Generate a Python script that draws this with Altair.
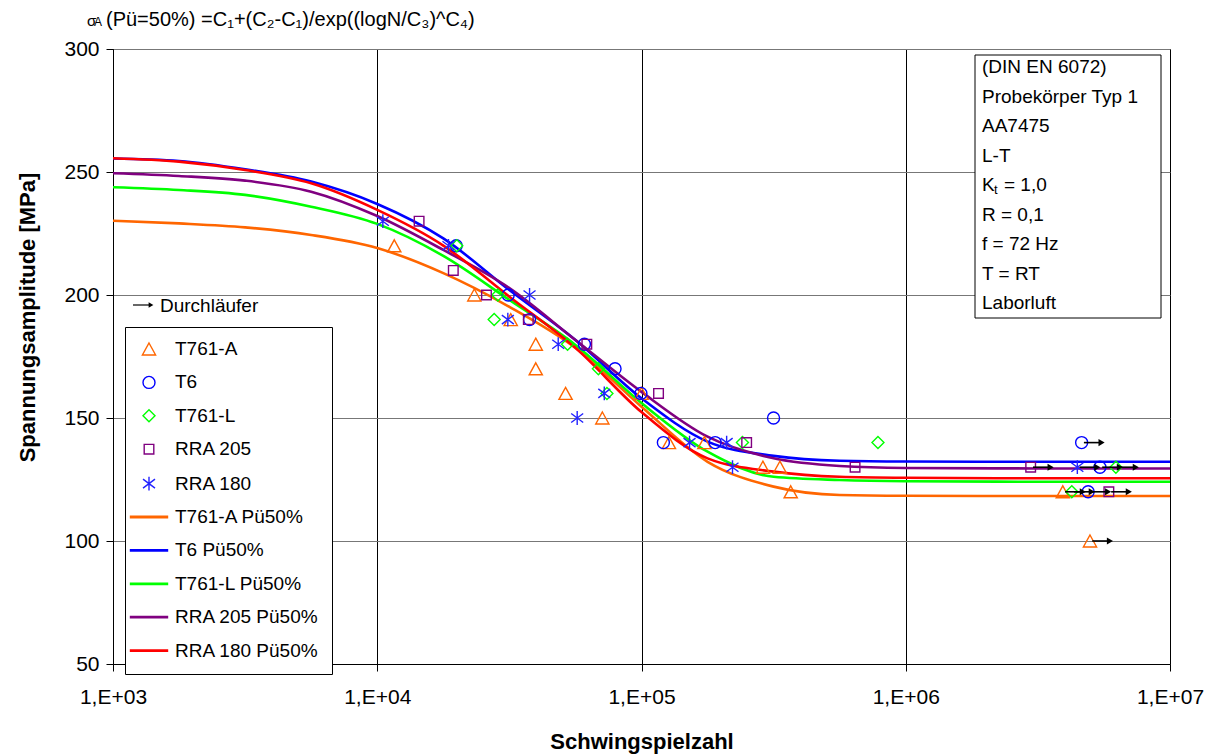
import altair as alt
import pandas as pd

FONT = "Liberation Sans"

# ---------------------------------------------------------------- test data
# Schwingspielzahl N, Spannungsamplitude [MPa], Durchläufer flag
T761A_N = [11600, 23300, 32000, 39800, 39800, 51600, 71100, 100000, 127000,
           173000, 288000, 334000, 367000, 3930000, 4980000]
T761A_S = [220, 200, 190, 180, 170, 160, 150, 160, 140, 140, 130, 130, 120, 120, 100]
T761A_RUN = [0, 0, 0, 0, 0, 0, 0, 0, 0, 0, 0, 0, 0, 1, 1]

T6_N = [19900, 31300, 37700, 60800, 79400, 99500, 121000, 190000, 316000,
        4630000, 5430000, 4900000]
T6_S = [220, 200, 190, 180, 170, 160, 140, 140, 150, 140, 130, 120]
T6_RUN = [0, 0, 0, 0, 0, 0, 0, 0, 0, 1, 1, 1]

T761L_N = [20000, 28600, 27700, 52500, 68700, 74000, 241000, 785000, 6240000, 4250000]
T761L_S = [220, 200, 190, 180, 170, 160, 140, 140, 130, 120]
T761L_RUN = [0, 0, 0, 0, 0, 0, 0, 0, 1, 1]

RRA205_N = [14400, 19400, 25900, 37300, 62100, 116000, 250000, 643000, 2970000, 5870000]
RRA205_S = [230, 210, 200, 190, 180, 160, 140, 130, 130, 120]
RRA205_RUN = [0, 0, 0, 0, 0, 0, 0, 0, 1, 1]

RRA180_N = [10500, 18600, 37700, 31200, 48400, 57100, 72300, 152000, 210000, 221000, 4460000]
RRA180_S = [230, 220, 200, 190, 180, 150, 160, 140, 140, 130, 130]
RRA180_RUN = [0, 0, 0, 0, 0, 0, 0, 0, 0, 0, 1]

# ------------------------------------------------------- Pü50% fit curves
CURVE_N = [1000, 1778, 3162, 5623, 10000, 17783, 31623, 56234, 100000,
           177828, 316228, 562341, 1000000, 3162278, 10000000]
CURVE_T761A = [230.2, 229.1, 227.5, 224.4, 219.1, 208.9, 195.2, 178.5, 154.6,
               132.2, 122.1, 118.7, 118.4, 118.3, 118.3]
CURVE_T6 = [255.5, 254.5, 251.1, 246.1, 237.0, 223.0, 202.0, 181.7, 158.0,
            140.4, 134.6, 132.6, 132.3, 132.2, 132.2]
CURVE_T761L = [243.8, 242.7, 240.7, 235.9, 228.9, 215.9, 198.0, 179.7, 156.1,
               136.3, 126.1, 124.8, 124.3, 124.1, 124.1]
CURVE_RRA205 = [249.5, 248.4, 246.5, 242.0, 232.1, 218.3, 202.8, 181.7, 160.6,
                142.4, 133.6, 130.5, 129.7, 129.5, 129.5]
CURVE_RRA180 = [255.6, 254.2, 250.8, 245.4, 234.6, 220.1, 199.3, 178.5, 152.4,
                133.6, 128.2, 126.1, 125.7, 125.5, 125.5]

SERIES = ["T761-A", "T6", "T761-L", "RRA 205", "RRA 180"]
CURVES = ["T761-A Pü50%", "T6 Pü50%", "T761-L Pü50%", "RRA 205 Pü50%", "RRA 180 Pü50%"]
LABELS = SERIES + CURVES
COLORS = ["#FF6600", "#0000FF", "#00FF00", "#800080", "#2222FF",
          "#FF6600", "#0000FF", "#00FF00", "#800080", "#FF0000"]

TRIANGLE = "M0,-1L1.1,1L-1.1,1Z"
SQUARE = "M-0.8,-0.8L0.8,-0.8L0.8,0.8L-0.8,0.8Z"
STAR = "M0,-1.15L0,1.15M-1,-0.75L1,0.75M-1,0.75L1,-0.75"
LINE = "M-3.2,-0.12L3.2,-0.12M-3.2,0.12L3.2,0.12"
SHAPES = [TRIANGLE, "circle", "diamond", SQUARE, STAR, LINE, LINE, LINE, LINE, LINE]

INFO_LINES = ["(DIN EN 6072)", "Probekörper Typ 1", "AA7475", "L-T", "",
              "R = 0,1", "f = 72 Hz", "T = RT", "Laborluft"]

# ------------------------------------------------------------- tables
pts = []
for name, ns, ss, runs in [
    ("T761-A", T761A_N, T761A_S, T761A_RUN),
    ("T6", T6_N, T6_S, T6_RUN),
    ("T761-L", T761L_N, T761L_S, T761L_RUN),
    ("RRA 205", RRA205_N, RRA205_S, RRA205_RUN),
    ("RRA 180", RRA180_N, RRA180_S, RRA180_RUN),
]:
    for n, s, r in zip(ns, ss, runs):
        pts.append({"label": name, "N": n, "S": s, "run": r})
points_df = pd.DataFrame(pts)

runouts = points_df[points_df["run"] == 1].copy()
runouts["N0"] = runouts["N"] * 1.02
runouts["N1"] = runouts["N"] * 1.19

curve_rows = []
for name, vals in zip(CURVES, [CURVE_T761A, CURVE_T6, CURVE_T761L, CURVE_RRA205, CURVE_RRA180]):
    for n, s in zip(CURVE_N, vals):
        curve_rows.append({"label": name, "N": n, "S": s})
curves_df = pd.DataFrame(curve_rows)

X_SCALE = alt.Scale(type="log", domain=[1000, 10000000], nice=False)
Y_SCALE = alt.Scale(domain=[50, 300], nice=False, zero=False)
COLOR_SCALE = alt.Scale(domain=LABELS, range=COLORS)
SHAPE_SCALE = alt.Scale(domain=LABELS, range=SHAPES)

x_axis = alt.Axis(
    values=[1000, 10000, 100000, 1000000, 10000000],
    labelExpr="'1,E+0' + round(log(datum.value) / LN10)",
    grid=True, gridColor="#000000", gridWidth=1,
    domainColor="#000000", tickColor="#000000", tickSize=7,
    labelFont=FONT, labelFontSize=21, labelColor="#000000", labelPadding=15,
    labelOverlap=False, labelFlush=False,
    title="Schwingspielzahl", titleFont=FONT, titleFontSize=22, titleFontWeight="bold",
    titleColor="#000000", titleBaseline="middle", titleY=77,
)
y_axis = alt.Axis(
    values=[50, 100, 150, 200, 250, 300],
    grid=True, gridColor="#777777", gridWidth=1,
    domainColor="#000000", tickColor="#000000", tickSize=7,
    labelFont=FONT, labelFontSize=21, labelColor="#000000", labelPadding=7,
    labelOverlap=False, labelFlush=False,
    title="Spannungsamplitude [MPa]", titleFont=FONT, titleFontSize=22,
    titleFontWeight="bold", titleColor="#000000", titleX=-86, titleY=268,
    titleBaseline="middle",
)

legend = alt.Legend(
    title=None, orient="none", legendX=12, legendY=278, direction="vertical",
    padding=12.5, rowPadding=13.4, symbolOffset=2, labelOffset=16.5,
    labelFont=FONT, labelFontSize=19, labelColor="#000000", labelLimit=300,
    symbolSize=144, symbolStrokeWidth=1.4, fillColor="#FFFFFF",
    strokeColor="#000000", cornerRadius=0,
)


def xy(xfield="N", yfield="S"):
    return dict(
        x=alt.X(f"{xfield}:Q", scale=X_SCALE, axis=x_axis),
        y=alt.Y(f"{yfield}:Q", scale=Y_SCALE, axis=y_axis),
    )


layers = []
for name in CURVES:
    layers.append(
        alt.Chart(curves_df).transform_filter(alt.datum.label == name)
        .mark_line(strokeWidth=2.6, interpolate="monotone")
        .encode(color=alt.Color("label:N", scale=COLOR_SCALE, legend=legend), **xy())
    )

layers.append(
    alt.Chart(points_df).mark_point(filled=False, size=144, strokeWidth=1.4, opacity=1)
    .encode(
        color=alt.Color("label:N", scale=COLOR_SCALE, legend=legend),
        shape=alt.Shape("label:N", scale=SHAPE_SCALE, legend=legend),
        **xy(),
    )
)

# Durchläufer arrows
layers.append(
    alt.Chart(runouts).mark_rule(color="#000000", strokeWidth=1.6)
    .encode(x2="N1:Q", **xy("N0"))
)
layers.append(
    alt.Chart(runouts).mark_point(shape="triangle-right", filled=True, size=50,
                                  color="#000000", opacity=1)
    .encode(**xy("N1"))
)

# legend note for the arrows
note = pd.DataFrame({"t": ["Durchläufer"]})
layers.append(
    alt.Chart(note).mark_rule(color="#000000", strokeWidth=1.2)
    .encode(x=alt.value(20), x2=alt.value(37), y=alt.value(256))
)
layers.append(
    alt.Chart(note).mark_point(shape="triangle-right", filled=True, size=30,
                               color="#000000", opacity=1)
    .encode(x=alt.value(38), y=alt.value(256))
)
layers.append(
    alt.Chart(note).mark_text(font=FONT, fontSize=19, align="left", baseline="middle",
                              color="#000000")
    .encode(x=alt.value(47), y=alt.value(257), text="t:N")
)

# info box
box = pd.DataFrame({"a": [0]})
layers.append(
    alt.Chart(box).mark_rect(fill="#FFFFFF", stroke="#000000", strokeWidth=1)
    .encode(x=alt.value(862), x2=alt.value(1048), y=alt.value(6), y2=alt.value(269))
)
info_df = pd.DataFrame({"t": INFO_LINES, "py": [18 + 29.5 * i for i in range(len(INFO_LINES))]})
layers.append(
    alt.Chart(info_df).mark_text(font=FONT, fontSize=19, align="left", baseline="middle",
                                 color="#000000")
    .encode(x=alt.value(869), y=alt.Y("py:Q", scale=None), text="t:N")
)
kt = pd.DataFrame({"t": ["K", "t", "= 1,0"], "px": [869, 881, 891],
                   "py": [136, 141, 136], "fs": [19, 13, 19]})
layers.append(
    alt.Chart(kt).mark_text(font=FONT, align="left", baseline="middle", color="#000000")
    .encode(x=alt.X("px:Q", scale=None), y=alt.Y("py:Q", scale=None), text="t:N",
            size=alt.Size("fs:Q", scale=None, legend=None))
)

# formula heading
head = pd.DataFrame({"t": ["σ", "A", "(Pü=50%) =C₁+(C₂-C₁)/exp((logN/C₃)^C₄)"],
                     "px": [-26, -19, -7], "py": [-23, -23, -23], "fs": [15, 12, 20]})
layers.append(
    alt.Chart(head).mark_text(font=FONT, align="left", baseline="alphabetic", color="#000000")
    .encode(x=alt.X("px:Q", scale=None), y=alt.Y("py:Q", scale=None), text="t:N",
            size=alt.Size("fs:Q", scale=None, legend=None))
)

chart = alt.layer(*layers).properties(
    width=1057, height=615,
    autosize=alt.AutoSizeParams(type="none"),
    padding={"left": 113, "top": 49, "right": 36, "bottom": 91},
    background="#FFFFFF",
).configure_view(stroke="#000000", strokeWidth=1)

chart.save("out.html", embed_options={"renderer": "svg", "actions": False})
